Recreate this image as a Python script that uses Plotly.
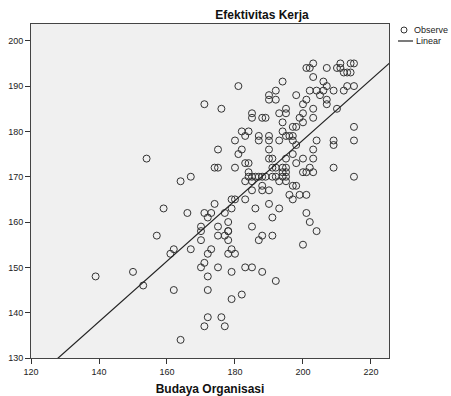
import plotly.graph_objects as go

# Budaya Organisasi (x) and Efektivitas Kerja (y)
budaya = [
    203, 201, 202, 207, 211, 210, 211, 212, 213, 214, 215, 214, 203, 206, 202, 204, 205, 206, 207, 209,
    212, 213, 215, 207, 207, 210, 201, 200, 203, 200, 199, 203, 200, 198, 198, 215, 215, 204, 209, 209,
    181, 171, 176, 194, 192, 190, 190, 192, 185, 185, 188, 189, 193, 195, 195, 194, 197, 182, 184, 183,
    180, 187, 187, 190, 190, 193, 194, 195, 196, 197, 197,
    175, 182, 181, 190, 190, 191, 195, 197, 174, 175, 180, 183, 184, 184, 184, 185, 186, 187, 188, 189,
    183, 185, 185, 188, 188, 190, 191, 192, 191, 192, 193, 194, 195, 195, 195, 195, 194, 194, 197, 196,
    197, 193, 190, 191, 186, 183, 179, 180, 179, 177, 174, 171, 173, 172, 178, 170, 175, 178, 185,
    198, 203, 200, 203, 198, 200, 201, 203, 202, 209, 215, 198, 199, 201, 201, 202, 204,
    170, 170, 175, 177, 178, 178, 188, 187, 191, 200, 173, 172, 179, 178, 180, 171, 170, 175, 183, 185,
    179, 188, 172, 192, 172, 179, 182, 172, 176, 171, 177, 164,
    139, 150, 153, 162, 161, 162, 167, 154, 164, 167, 159, 166, 157,
]
efektivitas = [
    195, 194, 194, 194, 195, 194, 194, 193, 193, 195, 195, 193, 192, 191, 189, 189, 188, 189, 190, 189,
    189, 190, 190, 187, 186, 185, 187, 186, 185, 184, 183, 183, 182, 188, 181, 181, 178, 178, 178, 177,
    190, 186, 185, 191, 189, 188, 187, 187, 184, 183, 183, 183, 184, 185, 184, 182, 181, 180, 180, 179,
    178, 179, 178, 179, 178, 178, 180, 179, 179, 179, 178,
    176, 176, 175, 176, 174, 174, 174, 175, 172, 172, 172, 173, 173, 171, 170, 170, 170, 170, 170, 170,
    169, 169, 167, 168, 167, 167, 170, 170, 172, 172, 169, 170, 172, 171, 170, 169, 172, 171, 168, 166,
    165, 163, 164, 161, 163, 165, 165, 165, 163, 162, 164, 162, 162, 161, 160, 159, 159, 158, 159,
    177, 176, 174, 174, 173, 171, 171, 171, 172, 172, 170, 168, 166, 166, 162, 160, 158,
    158, 156, 157, 157, 158, 156, 157, 156, 157, 155, 154, 153, 154, 153, 153, 151, 150, 150, 150, 150,
    149, 149, 148, 147, 145, 143, 144, 139, 139, 137, 137, 134,
    148, 149, 146, 145, 153, 154, 154, 174, 169, 170, 163, 162, 157,
]

# Linear fit
fit_intercept = 44.5
fit_slope = 0.668
fit_x = [120, 226]
fit_y = [fit_intercept + fit_slope * v for v in fit_x]

x_ticks = [120, 140, 160, 180, 200, 220]
y_ticks = [130, 140, 150, 160, 170, 180, 190, 200]

legend_labels = ["Observe", "Linear"]

FONT = "Liberation Sans, Arial, sans-serif"

fig = go.Figure()
fig.add_trace(go.Scatter(
    x=budaya, y=efektivitas, mode="markers", name=legend_labels[0],
    marker=dict(symbol="circle-open", size=7, color="#333333", line=dict(width=1, color="#333333")),
    showlegend=False, cliponaxis=True,
))
fig.add_trace(go.Scatter(
    x=fit_x, y=fit_y, mode="lines", name=legend_labels[1],
    line=dict(color="#222222", width=1.2), showlegend=False,
))

L, R, T, B = 31, 62, 24, 38
W, H = 451, 396
pw, ph = W - L - R, H - T - B

def px2x(px):
    return (px - L) / pw

def py2y(py):
    return (H - B - py) / ph

fig.update_layout(
    width=W, height=H,
    margin=dict(l=L, r=R, t=T, b=B, autoexpand=False),
    paper_bgcolor="white", plot_bgcolor="#F0F0F0",
    font=dict(family=FONT, size=9, color="#222222"),
    title=dict(text="<b>Efektivitas Kerja</b>", x=262 / W, xref="container", xanchor="center",
               y=1 - 15 / H, yref="container", yanchor="middle",
               font=dict(family=FONT, size=12, color="#111111")),
    showlegend=False,
    xaxis=dict(range=[120, 225.3], tickvals=x_ticks, ticks="outside", ticklen=5, tickcolor="#333333",
               showgrid=False, zeroline=False, showline=True, linecolor="#444444", linewidth=1, mirror=True,
               tickfont=dict(family=FONT, size=9, color="#222222"),
               title=dict(text="<b>Budaya Organisasi</b>", standoff=8,
                          font=dict(family=FONT, size=12, color="#111111"))),
    yaxis=dict(range=[130, 203.7], tickvals=y_ticks, ticks="outside", ticklen=5, tickcolor="#333333",
               showgrid=False, zeroline=False, showline=True, linecolor="#444444", linewidth=1, mirror=True,
               tickfont=dict(family=FONT, size=9, color="#222222")),
)

# manual legend (SPSS style)
fig.add_shape(type="circle", xref="paper", yref="paper",
              x0=px2x(401), x1=px2x(407), y0=py2y(33), y1=py2y(27),
              line=dict(color="#333333", width=1))
fig.add_shape(type="line", xref="paper", yref="paper",
              x0=px2x(398), x1=px2x(413), y0=py2y(41), y1=py2y(41),
              line=dict(color="#222222", width=1.2))
fig.add_annotation(text=legend_labels[0], xref="paper", yref="paper", x=px2x(412), y=py2y(30),
                   xanchor="left", yanchor="middle", showarrow=False,
                   font=dict(family=FONT, size=9, color="#222222"))
fig.add_annotation(text=legend_labels[1], xref="paper", yref="paper", x=px2x(414), y=py2y(41),
                   xanchor="left", yanchor="middle", showarrow=False,
                   font=dict(family=FONT, size=9, color="#222222"))

fig.write_html("out.html", config={"displayModeBar": False},
               post_script="document.body.style.margin='0';")
